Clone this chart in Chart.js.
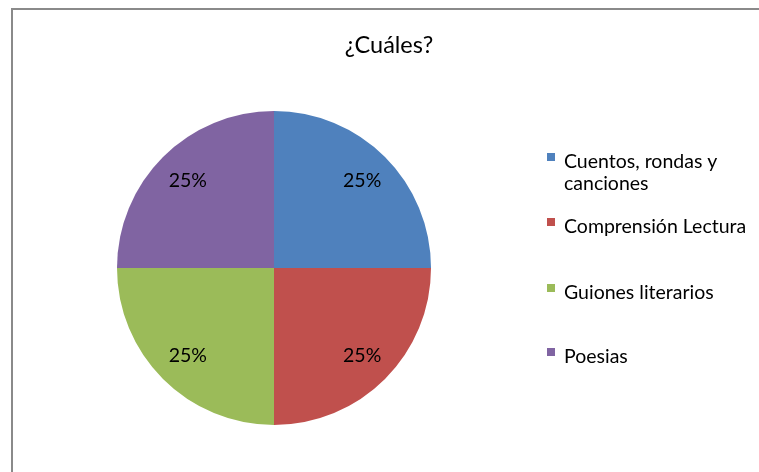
<!DOCTYPE html>
<html><head><meta charset="utf-8">
<script src="https://cdn.jsdelivr.net/npm/chart.js@4/dist/chart.umd.min.js"></script>
<style>html,body{margin:0;padding:0;background:#fff}canvas{display:block}</style>
</head><body>
<canvas id="c" width="759" height="472"></canvas>
<script>
const chartTitle = "¿Cuáles?";
const categories = ["Cuentos, rondas y canciones", "Comprensión Lectura", "Guiones literarios", "Poesias"];
const legendLines = [["Cuentos, rondas y", "canciones"], ["Comprensión Lectura"], ["Guiones literarios"], ["Poesias"]];
const values = [25, 25, 25, 25];
const valueLabels = ["25%", "25%", "25%", "25%"];
const colors = ["#4F81BD", "#C0504D", "#9BBB59", "#8064A2"];

const FONT = "Lato, 'Open Sans', sans-serif";

const decor = {
  id: "decor",
  afterDraw(chart) {
    const ctx = chart.ctx;
    ctx.save();
    // frame
    ctx.strokeStyle = "#8a8a8a";
    ctx.lineWidth = 2;
    ctx.beginPath();
    ctx.moveTo(12, 472);
    ctx.lineTo(12, 9);
    ctx.lineTo(759, 9);
    ctx.stroke();
    // title
    ctx.fillStyle = "#000";
    ctx.font = "23.5px " + FONT;
    ctx.textAlign = "center";
    ctx.textBaseline = "alphabetic";
    ctx.fillText(chartTitle, 389, 53);
    // value labels
    const meta = chart.getDatasetMeta(0);
    ctx.font = "19.5px " + FONT;
    meta.data.forEach((arc, i) => {
      const p = arc.getProps(["x", "y", "startAngle", "endAngle", "outerRadius"], true);
      const a = (p.startAngle + p.endAngle) / 2;
      const r = p.outerRadius * 0.785;
      ctx.fillText(valueLabels[i], p.x + Math.cos(a) * r + 1, p.y + Math.sin(a) * r + 6.5);
    });
    // legend
    const ys = [157, 222, 288, 352];
    ctx.textAlign = "left";
    legendLines.forEach((lines, i) => {
      ctx.fillStyle = colors[i];
      ctx.fillRect(547, ys[i] - 4, 8, 8);
      ctx.fillStyle = "#000";
      lines.forEach((t, j) => ctx.fillText(t, 564, ys[i] + 10.5 + j * 22));
    });
    ctx.restore();
  }
};

new Chart(document.getElementById("c"), {
  type: "pie",
  data: {
    labels: categories,
    datasets: [{ data: values, backgroundColor: colors, borderWidth: 0 }]
  },
  options: {
    responsive: false,
    animation: false,
    layout: { padding: { left: 117, right: 328, top: 111, bottom: 47 } },
    plugins: { legend: { display: false }, title: { display: false }, tooltip: { enabled: false } }
  },
  plugins: [decor]
});
</script>
</body></html>
